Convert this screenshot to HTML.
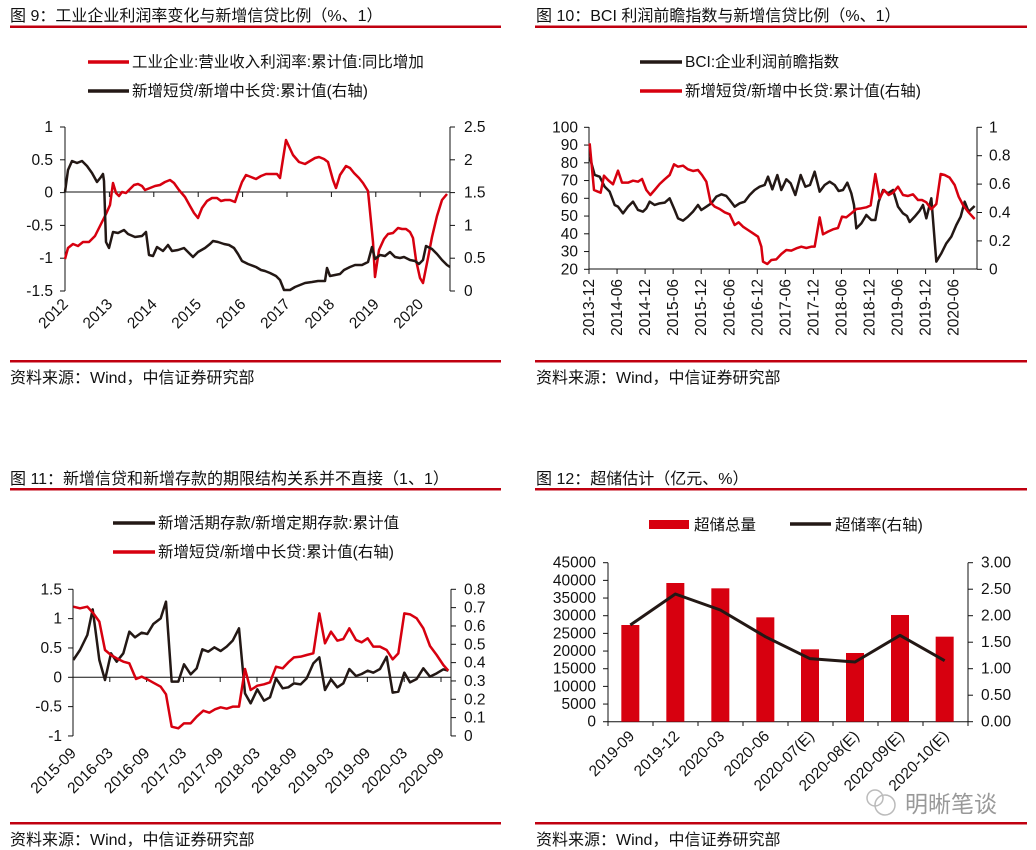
<!DOCTYPE html>
<html><head><meta charset="utf-8">
<style>
html,body{margin:0;padding:0;background:#fff;}
svg{display:block;font-family:"Liberation Sans","Noto Sans CJK SC",sans-serif;}
.t{font-size:16px;fill:#111;}
.l{font-size:15.5px;fill:#111;}
</style></head>
<body>
<svg id="s" width="1036" height="850" viewBox="0 0 1036 850" xmlns="http://www.w3.org/2000/svg">
<text class="t" x="10" y="21">图 9：工业企业利润率变化与新增信贷比例（%、1）</text>
<text class="t" x="536" y="21">图 10：BCI 利润前瞻指数与新增信贷比例（%、1）</text>
<text class="t" x="10" y="484">图 11：新增信贷和新增存款的期限结构关系并不直接（1、1）</text>
<text class="t" x="536" y="484">图 12：超储估计（亿元、%）</text>
<g fill="#c00010">
<rect x="10" y="25.5" width="491" height="2.5"/><rect x="535" y="25.5" width="492" height="2.5"/>
<rect x="10" y="488" width="491" height="2.5"/><rect x="535" y="488" width="492" height="2.5"/>
<rect x="10" y="360" width="491" height="2.5"/><rect x="535" y="360" width="492" height="2.5"/>
<rect x="10" y="822" width="491" height="2.5"/><rect x="535" y="822" width="492" height="2.5"/>
</g>
<text class="t" x="10" y="383">资料来源：Wind，中信证券研究部</text>
<text class="t" x="536" y="383">资料来源：Wind，中信证券研究部</text>
<text class="t" x="10" y="845">资料来源：Wind，中信证券研究部</text>
<text class="t" x="536" y="845">资料来源：Wind，中信证券研究部</text>

<line x1="88" y1="62" x2="129" y2="62" stroke="#d7000f" stroke-width="3.5"/>
<text class="l" x="132" y="67">工业企业:营业收入利润率:累计值:同比增加</text>
<line x1="88" y1="91" x2="129" y2="91" stroke="#231815" stroke-width="3.5"/>
<text class="l" x="132" y="96">新增短贷/新增中长贷:累计值(右轴)</text>

<line x1="640" y1="62" x2="682" y2="62" stroke="#231815" stroke-width="3.5"/>
<text class="l" x="685" y="67">BCI:企业利润前瞻指数</text>
<line x1="640" y1="91" x2="682" y2="91" stroke="#d7000f" stroke-width="3.5"/>
<text class="l" x="685" y="96">新增短贷/新增中长贷:累计值(右轴)</text>

<line x1="113" y1="523" x2="155" y2="523" stroke="#231815" stroke-width="3.5"/>
<text class="l" x="158" y="528">新增活期存款/新增定期存款:累计值</text>
<line x1="113" y1="552" x2="155" y2="552" stroke="#d7000f" stroke-width="3.5"/>
<text class="l" x="158" y="557">新增短贷/新增中长贷:累计值(右轴)</text>

<rect x="649" y="520" width="40" height="9" fill="#d7000f"/>
<text class="l" x="694" y="530">超储总量</text>
<line x1="790" y1="524" x2="831" y2="524" stroke="#231815" stroke-width="3.5"/>
<text class="l" x="835" y="530">超储率(右轴)</text>

<text x="905" y="812" font-size="23" fill="#999">明晰笔谈</text>
<circle cx="885" cy="805" r="10" fill="none" stroke="#bbb" stroke-width="1.5"/>
<circle cx="875" cy="798" r="8" fill="none" stroke="#bbb" stroke-width="1.5"/>

<g id="dyn"></g>
</svg>
<script>
var NS="http://www.w3.org/2000/svg",D=document.getElementById("dyn");
function el(t,a,p){var e=document.createElementNS(NS,t);for(var k in a)e.setAttribute(k,a[k]);(p||D).appendChild(e);return e;}
function txt(x,y,s,anchor,rot,size){var a={x:x,y:y,"font-size":size||15.5,fill:"#111","text-anchor":anchor||"start"};if(rot)a.transform="rotate("+rot+" "+x+" "+y+")";var e=el("text",a);e.textContent=s;return e;}
function line(x1,y1,x2,y2,w,c){el("line",{x1:x1,y1:y1,x2:x2,y2:y2,stroke:c||"#111","stroke-width":w||1});}
function poly(pts,c,w,tr){var s=[];for(var i=0;i<pts.length;i+=2)s.push(pts[i]+","+pts[i+1]);var a={points:s.join(" "),fill:"none",stroke:c,"stroke-width":w||2.5,"stroke-linejoin":"round","vector-effect":"non-scaling-stroke"};if(tr)a.transform=tr;el("polyline",a);}
var RED="#d7000f",BLK="#231815";

/* Chart 9 */
line(65,127,65,291);line(450,127,450,291);line(65,192,450,192);
["1","0.5","0","-0.5","-1","-1.5"].forEach(function(s,i){var y=127+32.8*i;line(60,y,65,y);txt(53,y+5,s,"end");});
["2.5","2","1.5","1","0.5","0"].forEach(function(s,i){var y=127+32.8*i;line(450,y,455,y);txt(464,y+5,s,"start");});
["2012","2013","2014","2015","2016","2017","2018","2019","2020"].forEach(function(s,i){var x=65+44.4*i;line(x,192,x,197);txt(x+4,305,s,"end",-45);});
poly([65,259,68,248,73,244,78,246,83,242,89,242,95,236,100,226,106,214,110,205,113,183,116,193,119,196,122,192,126,193,130,189,134,185,138,184,142,186,145,190,150,188,155,186,160,185,165,182,170,180,174,183,179,190,185,197,190,206,194,213,198,218,202,208,207,201,212,198,217,198,221,201,225,200,230,200,235,202,238,193,242,182,246,175,251,177,256,179,261,176,266,174,272,174,277,174,280,178,286,140,293,155,299,162,305,164,310,161,315,158,319,157,324,159,328,162,333,180,336,188,340,175,346,166,350,168,354,173,359,178,363,183,368,191,373,242,375,277,379,250,384,239,388,234,393,233,398,228,402,229,406,229,410,232,413,238,416,260,420,278,423,283,428,258,432,237,437,216,442,200,447,194],RED,2.5);
poly([65,192,68,170,72,161,77,163,82,161,87,166,92,173,97,182,101,177,103,174,104,181,106,242,109,248,113,232,118,233,124,230,128,234,135,237,142,236,146,232,149,255,153,256,157,247,163,251,168,245,172,251,178,250,184,248,187,251,193,257,198,252,205,248,210,244,213,241,218,242,224,244,229,245,234,248,238,254,242,261,248,264,256,267,261,270,265,271,270,273,276,276,280,280,284,290,290,290,295,287,300,285,305,283,312,282,318,281,325,281,327,268,330,276,335,275,340,274,344,270,350,267,355,265,362,265,368,262,372,247,375,259,380,255,385,256,390,252,395,257,400,258,404,257,410,260,415,261,419,264,423,260,426,246,432,249,437,254,442,260,447,265,450,267],BLK,2.5);

/* Chart 10 */
line(589,127,589,269);line(977,127,977,269);line(589,269,977,269);
["100","90","80","70","60","50","40","30","20"].forEach(function(s,i){var y=127.3+17.75*i;line(584,y,589,y);txt(578,y+5,s,"end");});
["1","0.8","0.6","0.4","0.2","0"].forEach(function(s,i){var y=127.3+28.4*i;line(977,y,982,y);txt(989,y+5,s,"start");});
["2013-12","2014-06","2014-12","2015-06","2015-12","2016-06","2016-12","2017-06","2017-12","2018-06","2018-12","2019-06","2019-12","2020-06"].forEach(function(s,i){var x=589+28.05*i;line(x,269,x,274);txt(x+5,279,s,"end",-90);});
var T10="translate(518,0) scale(0.33333)";
poly([215,470,230,525,245,530,260,560,275,575,290,615,300,620,315,640,330,620,345,605,360,630,375,635,385,625,395,605,410,615,425,610,440,608,455,595,470,630,480,655,495,662,510,650,525,635,540,615,550,630,565,620,580,610,595,590,610,583,625,588,635,600,650,620,665,610,680,605,695,585,710,570,725,560,740,555,750,530,763,568,778,525,790,570,805,538,818,550,832,585,848,525,862,560,876,555,890,515,905,575,920,555,935,545,950,555,962,573,975,570,988,548,1000,580,1008,615,1015,685,1030,670,1045,645,1060,660,1072,660,1082,605,1095,570,1110,580,1125,570,1140,620,1155,640,1167,648,1175,666,1190,650,1205,632,1215,615,1225,655,1240,595,1255,785,1270,760,1285,730,1300,710,1315,675,1328,650,1340,605,1352,635,1370,618],BLK,2.5,T10);
poly([215,430,228,570,240,575,248,578,258,527,270,540,285,553,300,512,312,548,330,548,345,542,360,545,372,537,385,570,397,585,410,570,425,552,440,538,455,525,468,493,480,500,495,497,510,508,525,513,540,510,552,525,565,545,578,608,590,620,605,627,620,637,635,643,650,675,662,667,675,680,690,690,705,700,720,710,730,740,735,785,748,792,760,780,775,778,790,762,805,750,820,752,835,745,850,740,865,744,880,740,890,740,905,652,915,703,930,695,945,688,960,684,972,650,985,652,1000,640,1015,627,1030,625,1045,622,1058,616,1072,522,1085,595,1098,570,1112,585,1125,578,1140,560,1155,585,1170,588,1185,583,1200,600,1212,600,1225,607,1240,628,1255,612,1268,522,1280,525,1295,533,1310,555,1322,590,1335,615,1350,635,1370,657],RED,2.5,T10);

/* Chart 11 */
line(73,589.3,73,736);line(451,589.3,451,736);line(73,677.3,451,677.3);
["1.5","1","0.5","0","-0.5","-1"].forEach(function(s,i){var y=589.3+29.33*i;line(68,y,73,y);txt(62,y+5,s,"end");});
["0.8","0.7","0.6","0.5","0.4","0.3","0.2","0.1","0"].forEach(function(s,i){var y=589.3+18.33*i;line(451,y,456,y);txt(464,y+5,s,"start");});
["2015-09","2016-03","2016-09","2017-03","2017-09","2018-03","2018-09","2019-03","2019-09","2020-03","2020-09"].forEach(function(s,i){var x=73+36.8*i;line(x,677.3,x,682);txt(x+4,754,s,"end",-45);});
var T11="translate(0,450) scale(0.33333)";
poly([220,630,240,600,262,555,278,478,285,530,298,630,315,690,333,610,350,635,370,610,388,545,405,562,425,548,442,552,460,522,482,505,498,455,515,695,535,695,552,643,572,673,590,655,607,598,625,605,643,592,662,603,680,590,698,572,717,535,735,730,752,760,772,718,792,752,810,742,828,685,848,715,865,712,882,700,902,703,920,685,940,640,958,622,975,720,993,688,1012,712,1030,700,1048,657,1068,678,1085,672,1103,662,1120,668,1140,657,1160,620,1178,728,1195,725,1213,668,1230,697,1250,687,1270,655,1290,680,1310,670,1330,658,1345,662],BLK,2.5,T11);
poly([220,470,240,475,262,470,280,490,298,515,315,600,333,615,350,625,370,635,388,640,408,687,425,680,442,688,460,698,482,710,498,733,515,830,535,835,552,820,572,820,590,800,610,782,628,788,645,778,662,772,680,776,698,770,717,770,735,657,752,720,772,707,792,703,810,697,828,650,848,655,865,637,882,622,902,620,920,615,940,610,958,490,975,580,993,545,1012,572,1030,567,1048,535,1068,570,1085,577,1103,565,1120,590,1140,590,1160,600,1178,628,1195,610,1213,490,1230,493,1250,505,1270,535,1290,588,1310,615,1330,645,1345,662],RED,2.5,T11);

/* Chart 12 */
line(608,562.7,608,721.7);line(968,562.7,968,721.7);line(608,721.7,968,721.7);
["45000","40000","35000","30000","25000","20000","15000","10000","5000","0"].forEach(function(s,i){var y=562.7+17.67*i;line(603,y,608,y);txt(596,y+5,s,"end");});
["3.00","2.50","2.00","1.50","1.00","0.50","0.00"].forEach(function(s,i){var y=562.7+26.5*i;line(968,y,973,y);txt(981,y+5,s,"start");});
for(var i=0;i<=8;i++){var x=608+45*i;line(x,721.7,x,726);}
var bars=[[337,525],[472,399],[607,415],[742,502],[876,598],[1011,609],[1146,495],[1280,560]];
var labs=["2019-09","2019-12","2020-03","2020-06","2020-07(E)","2020-08(E)","2020-09(E)","2020-10(E)"];
bars.forEach(function(b,i){var cx=518+b[0]/3,top=450+b[1]/3;el("rect",{x:cx-9,y:top,width:18,height:721.7-top,fill:RED});txt(cx+5,737,labs[i],"end",-45);});
poly([337,525,472,432,607,480,742,560,876,626,1011,636,1146,556,1280,632],BLK,3,"translate(518,450) scale(0.33333)");
</script>
</body></html>
